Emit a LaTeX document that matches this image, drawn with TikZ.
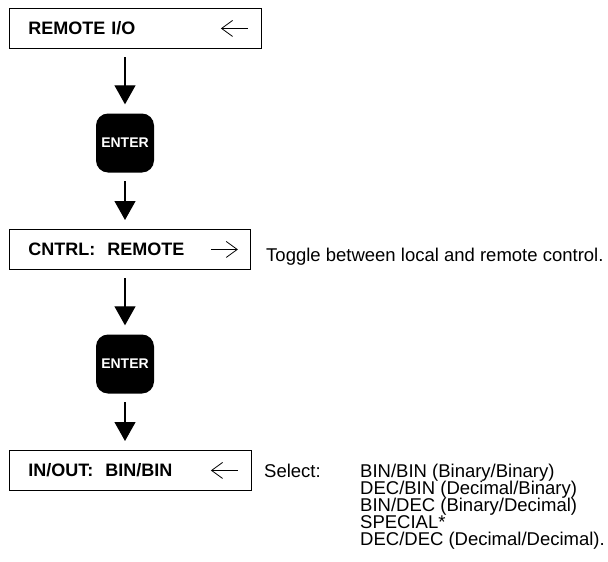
\documentclass[tikz,border=0pt]{standalone}
\usepackage{fontspec}
\setmainfont{Liberation Sans}
\usetikzlibrary{arrows.meta}
\usetikzlibrary{calc}
\tikzstyle{menubox}=[draw,line width=0.9pt,anchor=north west,minimum height=40pt,inner xsep=19pt,inner ysep=0pt,align=left,font=\fontsize{18}{20}\selectfont\bfseries]
\tikzstyle{enterkey}=[fill=black,rounded corners=12pt,minimum width=58pt,minimum height=59pt,inner sep=0pt,text=white,font=\fontsize{14}{16}\selectfont\bfseries]
\tikzstyle{flow} = [draw,line width=1.2pt,-{Triangle[length=19pt,width=21pt]},shorten <=8.5pt,shorten >=9pt]
\tikzstyle{dirarrow} = [draw,line width=0.8pt,-{Straight Barb[length=11pt,width=16pt]}]
\tikzstyle{note} = [anchor=base west,inner sep=0pt,font=\fontsize{18.5}{20}\selectfont]

\begin{document}
\begin{tikzpicture}[x=1pt,y=-1pt]

  \useasboundingbox (0,0) rectangle (608,562);
  \coordinate (axis) at (125,0);

   % menu displays
   \foreach \x/\y/\w/\name/\label in {9/8/214/remote/{REMOTE I/O}, 9/229/203/cntrl/{CNTRL:\ \ REMOTE}, 9/450/204/inout/{IN/OUT:\ \ BIN/BIN}}
          \node[menubox,text width=\w pt] (\name) at (\x,\y) {\label};

   \foreach \y/\name in {143/enter1, 364/enter2}
          \node[enterkey] (\name) at (125,\y) {ENTER};

  \foreach \source/ \dest in {remote/enter1, enter1/cntrl, cntrl/enter2, enter2/inout}
         \path[flow] (\source.south -| axis) -- (\dest.north -| axis);

   % arrow keys shown in the displays
   \path[dirarrow] ([xshift=-14pt]remote.east) -- ([xshift=-41pt]remote.east);
   \path[dirarrow] ([xshift=-40pt]cntrl.east) -- ([xshift=-13pt]cntrl.east);
   \path[dirarrow] ([xshift=-14pt]inout.east) -- ([xshift=-41pt]inout.east);

  \node[note] (toggle) at (266,261) {Toggle between local and remote control.};
  \node[note] (select) at (264,477) {Select:};

   \foreach \opt [count=\i from 0] in {{BIN/BIN (Binary/Binary)}, {DEC/BIN (Decimal/Binary)}, {BIN/DEC (Binary/Decimal)}, {SPECIAL*}, {DEC/DEC (Decimal/Decimal).}}
          \node[note] (opt\i) at (360,477+17.1*\i) {\opt};

\end{tikzpicture}
\end{document}
